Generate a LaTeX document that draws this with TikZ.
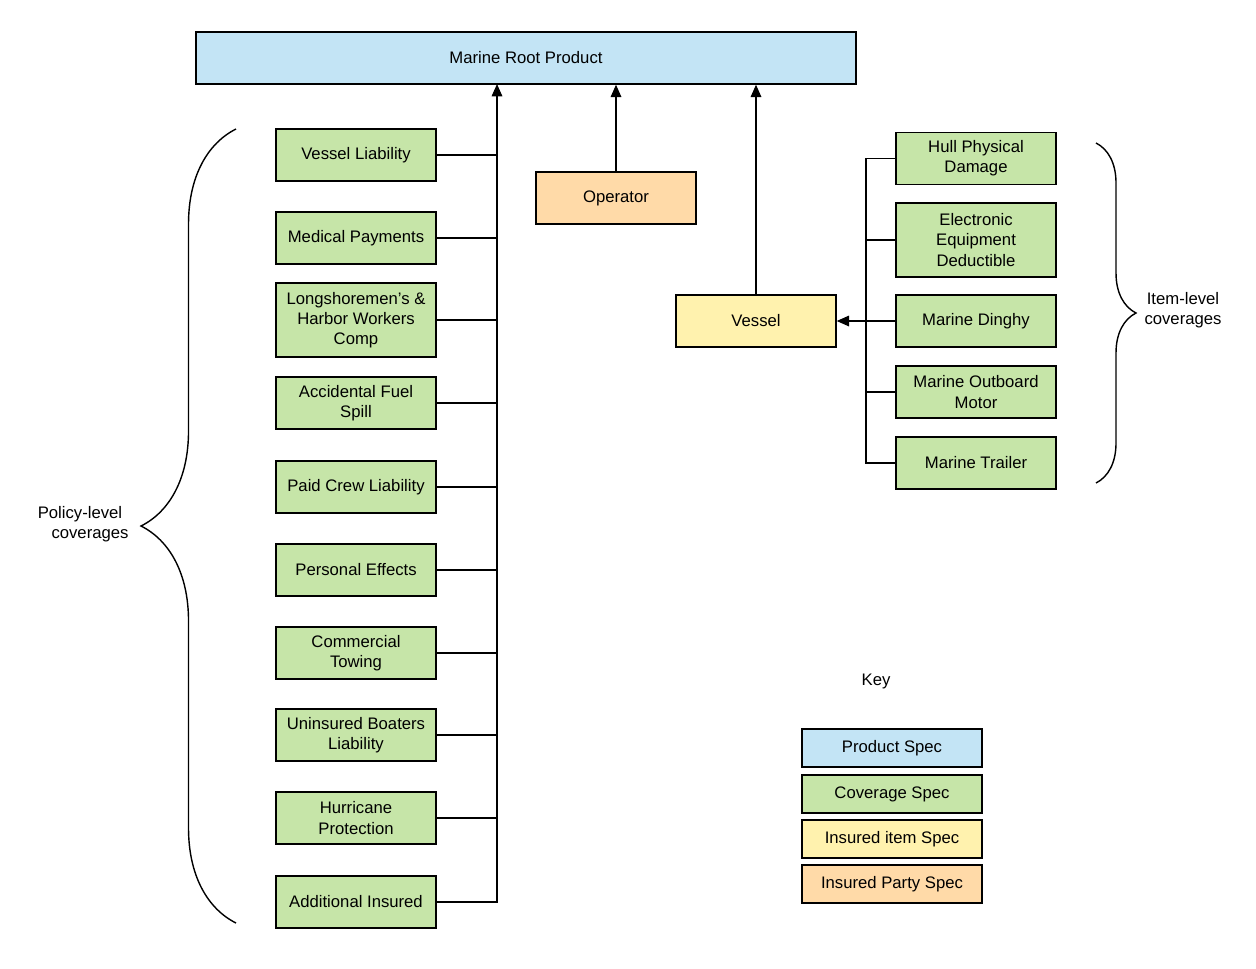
\documentclass[tikz,border=0pt]{standalone}
\usepackage{fontspec}
\setmainfont{Liberation Sans}
\usetikzlibrary{arrows.meta}
\usetikzlibrary{decorations.pathreplacing}
\definecolor{prodblue}{HTML}{C3E4F5}
\definecolor{covgreen}{HTML}{C6E5A8}
\definecolor{itemyellow}{HTML}{FFF2AE}
\definecolor{partyorange}{HTML}{FFDAA8}
\tikzset{
  spec/.style={draw, thick, minimum width=3.2cm, minimum height=1.04cm, align=center,
    font=\fontsize{9.5}{11.5}\selectfont, inner sep=1pt},
  cov/.style={spec, fill=covgreen},
  keybox/.style={spec, minimum width=3.6cm, minimum height=0.76cm},
  link/.style={thick},
  up/.style={thick, -{Triangle[length=7pt,width=6pt]}},
}
\begin{document}
\begin{tikzpicture}[x=0.02cm, y=-0.02cm]
      \useasboundingbox (0,0) rectangle (1256,968);

      \node [spec, fill=prodblue, minimum width=13.2cm] (root) at (526,58) {Marine Root Product};
      \node [spec, fill=partyorange] (operator) at (616,198) {Operator};
      \node [spec, fill=itemyellow] (vessel) at (756,321) {Vessel};

      % policy-level coverages
      \node [cov] (c1) at (356,155) {Vessel Liability};
      \node [cov] (c2) at (356,238) {Medical Payments};
      \node [cov, minimum height=1.48cm] (c3) at (356,320) {Longshoremen's \&\\Harbor Workers\\Comp};
      \node [cov] (c4) at (356,403) {Accidental Fuel\\Spill};
      \node [cov] (c5) at (356,487) {Paid Crew Liability};
      \node [cov] (c6) at (356,570) {Personal Effects};
      \node [cov] (c7) at (356,653) {Commercial\\Towing};
      \node [cov] (c8) at (356,735) {Uninsured Boaters\\Liability};
      \node [cov] (c9) at (356,818) {Hurricane\\Protection};
      \node [cov] (c10) at (356,902) {Additional Insured};

      \coordinate (trunk) at (497,84);
      \draw [link] (c10.east) -| (497,902) -- (497,100);
      \draw [up] (497,110) -- (trunk);
      \foreach \i in {1,...,9}
        \draw [link] (c\i.east) -- (c\i.east -| trunk);

      \draw [up] (operator.north) -- (operator.north |- root.south);
      \draw [up] (vessel.north) -- (vessel.north |- root.south);

      % item-level coverages
      \node [cov] (i1) at (976,158.5) {Hull Physical\\Damage};
      \node [cov, minimum height=1.48cm] (i2) at (976,240) {Electronic\\Equipment\\Deductible};
      \node [cov] (i3) at (976,321) {Marine Dinghy};
      \node [cov] (i4) at (976,392) {Marine Outboard\\Motor};
      \node [cov] (i5) at (976,463) {Marine Trailer};

      \coordinate (itrunk) at (866,321);
      \draw [link] (i1.west) -| (866,463) -- (i5.west);
      \foreach \i in {2,3,4}
        \draw [link] (i\i.west) -- (i\i.west -| itrunk);
      \draw [up] (itrunk) -- (vessel.east);

      % braces
      \draw [decorate, decoration={brace, amplitude=1.9cm, aspect=0.5}, thick]
        (236,923) -- (236,129);
      \node [align=center, font=\fontsize{9.5}{11.5}\selectfont] (pol) at (80,524) {Policy-level\\\hspace*{1.2em}coverages};
      \draw [decorate, decoration={brace, amplitude=0.8cm, aspect=0.5}, thick]
        (1096,143) -- (1096,483);
      \node [align=center, font=\fontsize{9.5}{11.5}\selectfont] (itm) at (1183,310) {Item-level\\coverages};

      % key
      \node [font=\fontsize{9.5}{11.5}\selectfont] (key) at (876,681) {Key};
      \node [keybox, fill=prodblue] (k1) at (892,748) {Product Spec};
      \node [keybox, fill=covgreen] (k2) at (892,794) {Coverage Spec};
      \node [keybox, fill=itemyellow] (k3) at (892,839) {Insured item Spec};
      \node [keybox, fill=partyorange] (k4) at (892,884) {Insured Party Spec};
\end{tikzpicture}
\end{document}
